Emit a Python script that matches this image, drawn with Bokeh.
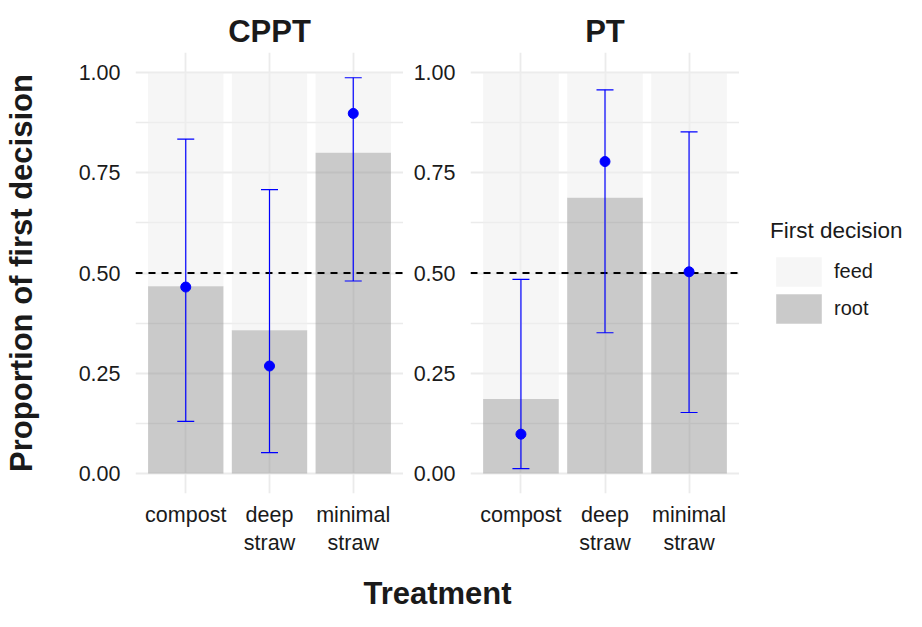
from bokeh.plotting import figure
from bokeh.layouts import row, column
from bokeh.models import (Range1d, FixedTicker, Span, Whisker, TeeHead, ColumnDataSource,
                          Legend, LegendItem, NumeralTickFormatter, Label)
from bokeh.embed import file_html
from bokeh.resources import INLINE

# ---------------- data ----------------
treatments = ["compost", "deep straw", "minimal straw"]
tick_labels = ["compost", "deep\nstraw", "minimal\nstraw"]
panels = ["CPPT", "PT"]

cppt_root = [0.467, 0.357, 0.800]
cppt_est = [0.465, 0.268, 0.898]
cppt_lower = [0.130, 0.052, 0.480]
cppt_upper = [0.834, 0.708, 0.987]

pt_root = [0.186, 0.688, 0.500]
pt_est = [0.098, 0.778, 0.503]
pt_lower = [0.012, 0.351, 0.152]
pt_upper = [0.484, 0.957, 0.852]

reference_line = 0.5
y_ticks = [0.0, 0.25, 0.5, 0.75, 1.0]
legend_title = "First decision"
decision_levels = ["feed", "root"]
x_title = "Treatment"
y_title = "Proportion of first decision"

# ---------------- style ----------------
FONT = "Liberation Sans"
GRID = "#EBEBEB"
FEED_COLOR, FEED_ALPHA = "#EEEEEE", 0.55
ROOT_COLOR, ROOT_ALPHA = "#999999", 0.52
TXT = "#1A1A1A"
BLUE = "#0000FF"
TOP_B, FRAME_H, BOT_B = 52, 441, 66
PANEL_H = TOP_B + FRAME_H + BOT_B
TOTAL_W, TOTAL_H = 906, 611
P1_W, P2_W = 403, 336


def make_source(root, est, lo, hi):
    xs = [i + 1 for i in range(len(treatments))]
    feed = [1.0 - r for r in root]
    total = [r + f for r, f in zip(root, feed)]
    return ColumnDataSource(dict(x=xs, root=root, total=total, est=est, lo=lo, hi=hi))


def make_panel(name, src, left_b, width, ylabel):
    xs = list(src.data["x"])
    p = figure(width=width, height=PANEL_H,
               x_range=Range1d(0.4, len(xs) + 0.6), y_range=Range1d(-0.05, 1.05),
               output_backend="svg", toolbar_location=None, title=name,
               min_border_left=left_b, min_border_right=0,
               min_border_top=TOP_B, min_border_bottom=BOT_B)
    p.outline_line_color = None
    p.background_fill_color = "white"

    p.vbar(x="x", bottom="root", top="total", width=0.9, source=src,
           fill_color=FEED_COLOR, fill_alpha=FEED_ALPHA, line_color=None)
    p.vbar(x="x", bottom=0, top="root", width=0.9, source=src,
           fill_color=ROOT_COLOR, fill_alpha=ROOT_ALPHA, line_color=None)

    p.add_layout(Span(location=reference_line, dimension="width", line_color="black",
                      line_width=1.8, line_dash="7 6"))

    w = Whisker(source=src, base="x", upper="hi", lower="lo", line_color=BLUE,
                line_width=1.2, level="overlay",
                upper_head=TeeHead(size=17, line_color=BLUE, line_width=1.2),
                lower_head=TeeHead(size=17, line_color=BLUE, line_width=1.2))
    p.add_layout(w)
    p.scatter(x="x", y="est", source=src, size=10, fill_color=BLUE, line_color=BLUE,
              level="overlay")

    # axes
    minor = [(a + b) / 2 for a, b in zip(y_ticks, y_ticks[1:])]
    p.yaxis.ticker = FixedTicker(ticks=y_ticks, minor_ticks=minor)
    p.yaxis.formatter = NumeralTickFormatter(format="0.00")
    p.xaxis.ticker = FixedTicker(ticks=xs)
    p.xaxis.major_label_overrides = {x: lab for x, lab in zip(xs, tick_labels)}
    for ax in (p.xaxis, p.yaxis):
        ax.axis_line_color = None
        ax.major_tick_line_color = None
        ax.minor_tick_line_color = None
        ax.major_tick_out = 0
        ax.major_tick_in = 0
        ax.major_label_text_font = FONT
        ax.major_label_text_font_size = "21.5px"
        ax.major_label_text_color = TXT
    p.yaxis.major_label_standoff = 11
    p.xaxis.major_label_standoff = 9
    if ylabel:
        p.yaxis.axis_label = ylabel
        p.yaxis.axis_label_text_font = FONT
        p.yaxis.axis_label_text_font_size = "31px"
        p.yaxis.axis_label_text_font_style = "bold"
        p.yaxis.axis_label_text_color = TXT
        p.yaxis.axis_label_standoff = 37

    # grid
    p.xgrid.ticker = FixedTicker(ticks=xs)
    p.xgrid.grid_line_color = GRID
    p.xgrid.grid_line_width = 1.8
    p.ygrid.grid_line_color = GRID
    p.ygrid.grid_line_width = 1.8
    p.ygrid.minor_grid_line_color = GRID
    p.ygrid.minor_grid_line_width = 1.3

    # strip title
    p.title.align = "center"
    p.title.text_font = FONT
    p.title.text_font_size = "31px"
    p.title.text_font_style = "bold"
    p.title.text_color = TXT
    p.title.standoff = 8
    return p


src_cppt = make_source(cppt_root, cppt_est, cppt_lower, cppt_upper)
src_pt = make_source(pt_root, pt_est, pt_lower, pt_upper)
p1 = make_panel(panels[0], src_cppt, 135, P1_W, y_title)
p2 = make_panel(panels[1], src_pt, 67, P2_W, None)

# legend panel (its key glyphs share the PT source but lie outside this panel's view)
pl = figure(width=TOTAL_W - P1_W - P2_W, height=PANEL_H, x_axis_type=None, y_axis_type=None,
            x_range=Range1d(-3, -2), y_range=Range1d(-3, -2), output_backend="svg",
            toolbar_location=None, min_border=0)
pl.outline_line_color = None
pl.grid.visible = False
leg_feed = pl.vbar(x="x", bottom="root", top="total", width=0.9, source=src_pt,
                   fill_color=FEED_COLOR, fill_alpha=FEED_ALPHA, line_color=None)
leg_root = pl.vbar(x="x", bottom=0, top="root", width=0.9, source=src_pt,
                   fill_color=ROOT_COLOR, fill_alpha=ROOT_ALPHA, line_color=None)
legend = Legend(items=[LegendItem(label=decision_levels[0], renderers=[leg_feed]),
                       LegendItem(label=decision_levels[1], renderers=[leg_root])],
                title=legend_title, location=(31, 166),
                glyph_width=57, glyph_height=37, spacing=0, label_standoff=7,
                padding=0, margin=0, border_line_color=None, background_fill_alpha=0,
                title_text_font=FONT, title_text_font_size="22.5px", title_text_color=TXT,
                title_text_font_style="normal", title_standoff=9,
                label_text_font=FONT, label_text_font_size="20px", label_text_color=TXT)
pl.add_layout(legend, "center")

# x-axis title strip
p3 = figure(width=TOTAL_W, height=TOTAL_H - PANEL_H, x_axis_type=None, y_axis_type=None,
            x_range=Range1d(0, 1), y_range=Range1d(0, 1), output_backend="svg",
            toolbar_location=None, min_border=0)
p3.outline_line_color = None
p3.grid.visible = False
p3.add_layout(Label(x=437, y=18, x_units="screen", y_units="screen", text=x_title,
                    text_align="center", text_baseline="alphabetic", text_font=FONT,
                    text_font_size="31px", text_font_style="bold", text_color=TXT))

layout = column(row(p1, p2, pl), p3)
open("out.html", "w").write(file_html(layout, INLINE))
